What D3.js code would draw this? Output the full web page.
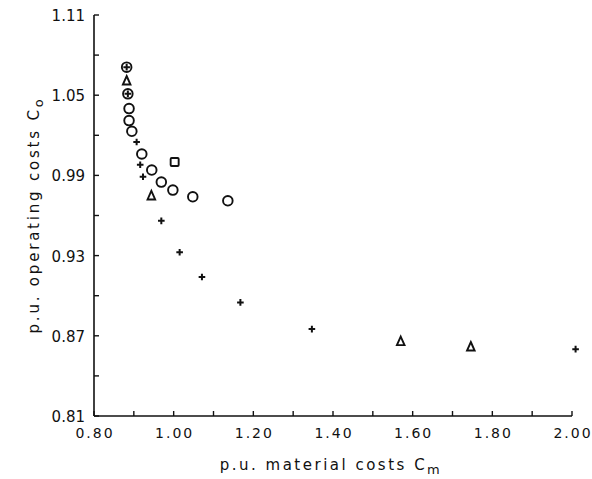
<!DOCTYPE html>
<html><head><meta charset="utf-8">
<script src="https://cdn.jsdelivr.net/npm/d3@7"></script>
<style>
body{margin:0;background:#fff;}
svg{display:block;}
text{font-family:"DejaVu Sans",sans-serif;fill:#111;}
</style></head>
<body>
<svg id="chart" width="592" height="479"></svg>
<script>
// Data (x = p.u. material costs Cm, y = p.u. operating costs Co)
const circleX = [0.882, 0.885, 0.888, 0.888, 0.895, 0.920, 0.945, 0.969, 0.998, 1.048, 1.136];
const circleY = [1.071, 1.051, 1.040, 1.031, 1.023, 1.006, 0.994, 0.985, 0.979, 0.974, 0.971];
const plusX = [0.882, 0.885, 0.907, 0.916, 0.923, 0.969, 1.015, 1.071, 1.1675, 1.347, 2.009];
const plusY = [1.071, 1.051, 1.015, 0.998, 0.989, 0.956, 0.9325, 0.914, 0.895, 0.875, 0.860];
const triX = [0.882, 0.944, 1.570, 1.746];
const triY = [1.061, 0.975, 0.866, 0.862];
const squareX = [1.0025];
const squareY = [1.000];
const xTicks = [0.80, 1.00, 1.20, 1.40, 1.60, 1.80, 2.00];
const xMinor = [0.9, 1.1, 1.3, 1.5, 1.7, 1.9];
const yTicks = [0.81, 0.87, 0.93, 0.99, 1.05, 1.11];
const yMinor = [0.84, 0.90, 0.96, 1.02, 1.08];

const svg = d3.select("#chart");
const x = d3.scaleLinear().domain([0.8, 2.0]).range([94, 572]);
const y = d3.scaleLinear().domain([0.81, 1.11]).range([416, 15]);

const g = svg.append("g");
// axis lines
g.append("line").attr("x1", x(0.8)).attr("x2", x(2.0)).attr("y1", y(0.81)).attr("y2", y(0.81))
  .attr("stroke", "#111").attr("stroke-width", 1.6);
g.append("line").attr("x1", x(0.8)).attr("x2", x(0.8)).attr("y1", y(0.81)).attr("y2", y(1.11))
  .attr("stroke", "#111").attr("stroke-width", 1.6);

// ticks (inward)
const tl = 5;
g.selectAll(".xt").data(xTicks.concat(xMinor)).enter().append("line")
  .attr("x1", d => x(d)).attr("x2", d => x(d)).attr("y1", y(0.81)).attr("y2", y(0.81) - tl)
  .attr("stroke", "#111").attr("stroke-width", 1.4);
g.selectAll(".yt").data(yTicks.concat(yMinor)).enter().append("line")
  .attr("x1", x(0.8)).attr("x2", x(0.8) + tl).attr("y1", d => y(d)).attr("y2", d => y(d))
  .attr("stroke", "#111").attr("stroke-width", 1.4);

// tick labels
g.selectAll(".xl").data(xTicks).enter().append("text")
  .attr("x", d => x(d) + 1).attr("y", y(0.81) + 22).attr("text-anchor", "middle")
  .style("font-size", "14px").style("letter-spacing", "2px")
  .text(d => d.toFixed(2));
g.selectAll(".yl").data(yTicks).enter().append("text")
  .attr("x", x(0.8) - 9).attr("y", d => y(d) + 6).attr("text-anchor", "end")
  .style("font-size", "15px")
  .text(d => d.toFixed(2));

// axis titles
const xt = g.append("text").attr("x", 331).attr("y", 470).attr("text-anchor", "middle")
  .style("font-size", "15px").style("letter-spacing", "2.5px");
xt.append("tspan").text("p.u. material costs C");
xt.append("tspan").attr("dy", 4).style("font-size", "13px").text("m");

const yt = g.append("text").attr("transform", "translate(39,215) rotate(-90)").attr("text-anchor", "middle")
  .style("font-size", "15px").style("letter-spacing", "2.8px");
yt.append("tspan").text("p.u. operating costs C");
yt.append("tspan").attr("dy", 4).style("font-size", "13px").text("o");

// markers
const sw = 1.9;
g.selectAll(".c").data(d3.range(circleX.length)).enter().append("circle")
  .attr("cx", i => x(circleX[i])).attr("cy", i => y(circleY[i])).attr("r", 4.8)
  .attr("fill", "none").attr("stroke", "#111").attr("stroke-width", sw);
g.selectAll(".p").data(d3.range(plusX.length)).enter().append("path")
  .attr("transform", i => `translate(${x(plusX[i])},${y(plusY[i])})`)
  .attr("d", "M-3.3,0H3.3M0,-3.3V3.3")
  .attr("stroke", "#111").attr("stroke-width", 2);
g.selectAll(".t").data(d3.range(triX.length)).enter().append("path")
  .attr("transform", i => `translate(${x(triX[i])},${y(triY[i])})`)
  .attr("d", "M0,-4.5L3.8,4L-3.8,4Z")
  .attr("fill", "none").attr("stroke", "#111").attr("stroke-width", sw).attr("stroke-linejoin", "miter");
g.selectAll(".s").data(d3.range(squareX.length)).enter().append("rect")
  .attr("x", i => x(squareX[i]) - 4).attr("y", i => y(squareY[i]) - 4).attr("width", 8).attr("height", 8)
  .attr("rx", 1).attr("fill", "none").attr("stroke", "#111").attr("stroke-width", sw);
</script>
</body></html>
